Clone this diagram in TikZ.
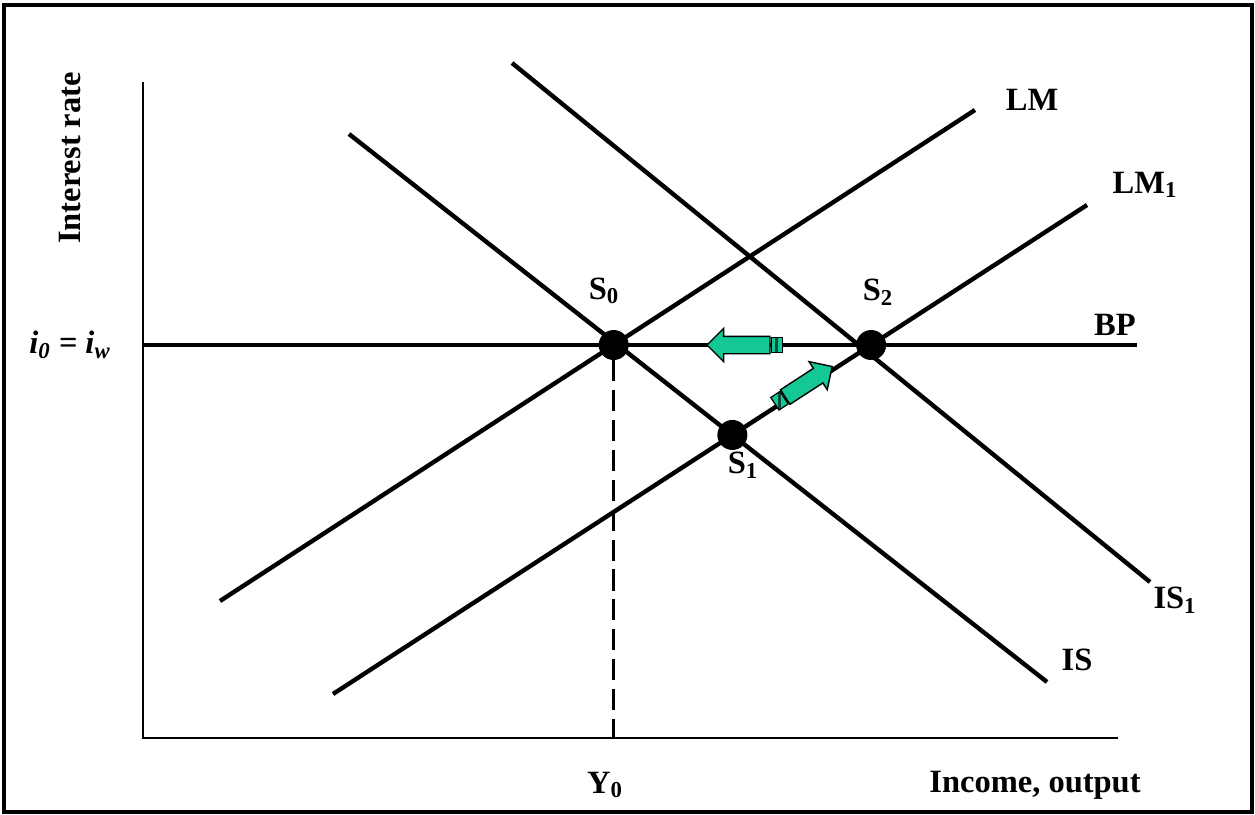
\documentclass[tikz,border=0pt]{standalone}
\usepackage{fontspec}
\setmainfont{Liberation Serif}
\usetikzlibrary{positioning,shapes.arrows}
\definecolor{shift}{RGB}{20,200,150}

\begin{document}
\begin{tikzpicture}[x=0.02cm,y=-0.02cm,font=\fontsize{18.5}{22}\selectfont\bfseries,
  curve/.style={line width=2.5pt},
  axis/.style={line width=1.5pt},
  eq/.style={circle,fill=black,inner sep=0pt,minimum size=0.6cm},
  lbl/.style={inner sep=0pt},
  move/.style={single arrow,draw=black,fill=shift,line width=0.8pt,inner xsep=0pt,inner ysep=0.16cm,single arrow head extend=0.16cm},
  stub/.style={draw=black,fill=shift,line width=0.7pt,minimum width=0.22cm,minimum height=0.3cm,inner sep=0pt,
    path picture={\draw[line width=1.8pt,shift!40!black] (path picture bounding box.north) -- (path picture bounding box.south);}}]
  \useasboundingbox (0,0) rectangle (1255,815);
  \draw[line width=2pt] (4,5) rectangle (1252,812);
  % axes
  \coordinate (o) at (143,738);
  \coordinate (ytop) at (143,82);
  \coordinate (xend) at (1118,738);
  \draw[axis] (ytop) -- (o) -- (xend);
  % curve ends
  \coordinate (bp-a) at (143,345);  \coordinate (bp-b) at (1137,345);
  \coordinate (lm-a) at (220,601);  \coordinate (lm-b) at (975,110);
  \coordinate (lm1-a) at (333,694); \coordinate (lm1-b) at (1087,205);
  \coordinate (is-a) at (349,134);  \coordinate (is-b) at (1047,682);
  \coordinate (is1-a) at (512,63);  \coordinate (is1-b) at (1150,582);
  \draw[curve] (bp-a) -- (bp-b);
  \draw[curve] (lm-a) -- (lm-b);
  \draw[curve] (lm1-a) -- (lm1-b);
  \draw[curve] (is-a) -- (is-b);
  \draw[curve] (is1-a) -- (is1-b);
  % equilibria
  \node[eq] (s0) at (intersection of lm-a--lm-b and bp-a--bp-b) {};
  \node[eq] (s1) at (intersection of is-a--is-b and lm1-a--lm1-b) {};
  \node[eq] (s2) at (intersection of bp-a--bp-b and lm1-a--lm1-b) {};
  \coordinate (y0) at (s0 |- o);
  \draw[line width=1.5pt,dash pattern=on 12pt off 5pt] (s0) -- (y0);
  % shifts
  \node[move,minimum height=1.26cm,rotate=180,anchor=tip] (back) at (706,345) {};
  \node[stub,rotate=180,anchor=east] (backtail) at (back.tail) {};
  \node[move,minimum height=1.12cm,rotate=33,anchor=tip] (up) at (833,366) {};
  \node[stub,rotate=33,anchor=east] (uptail) at (up.tail) {};
  % labels
  \node[lbl] (lmlbl) at (1032,100) {LM};
  \node[lbl] (lm1lbl) at (1145,185) {LM\textsubscript{1}};
  \node[lbl] (bplbl) at (1115,325) {BP};
  \node[lbl] (is1lbl) at (1175,600) {IS\textsubscript{1}};
  \node[lbl] (islbl) at (1077,660) {IS};
  \node[lbl] (s0lbl) at (604,291) {S\textsubscript{0}};
  \node[lbl] (s2lbl) at (878,292) {S\textsubscript{2}};
  \node[lbl] (s1lbl) at (743,465) {S\textsubscript{1}};
  \node[lbl] (y0lbl) at (605,785) {Y\textsubscript{0}};
  \node[lbl] (xlbl) at (1035,785) {Income, output};
  \node[lbl] (ilbl) at (70,345) {\textit{i\textsubscript{0} = i\textsubscript{w}}};
  \node[lbl,rotate=90] (ylbl) at (70,158) {Interest rate};
\end{tikzpicture}
\end{document}
